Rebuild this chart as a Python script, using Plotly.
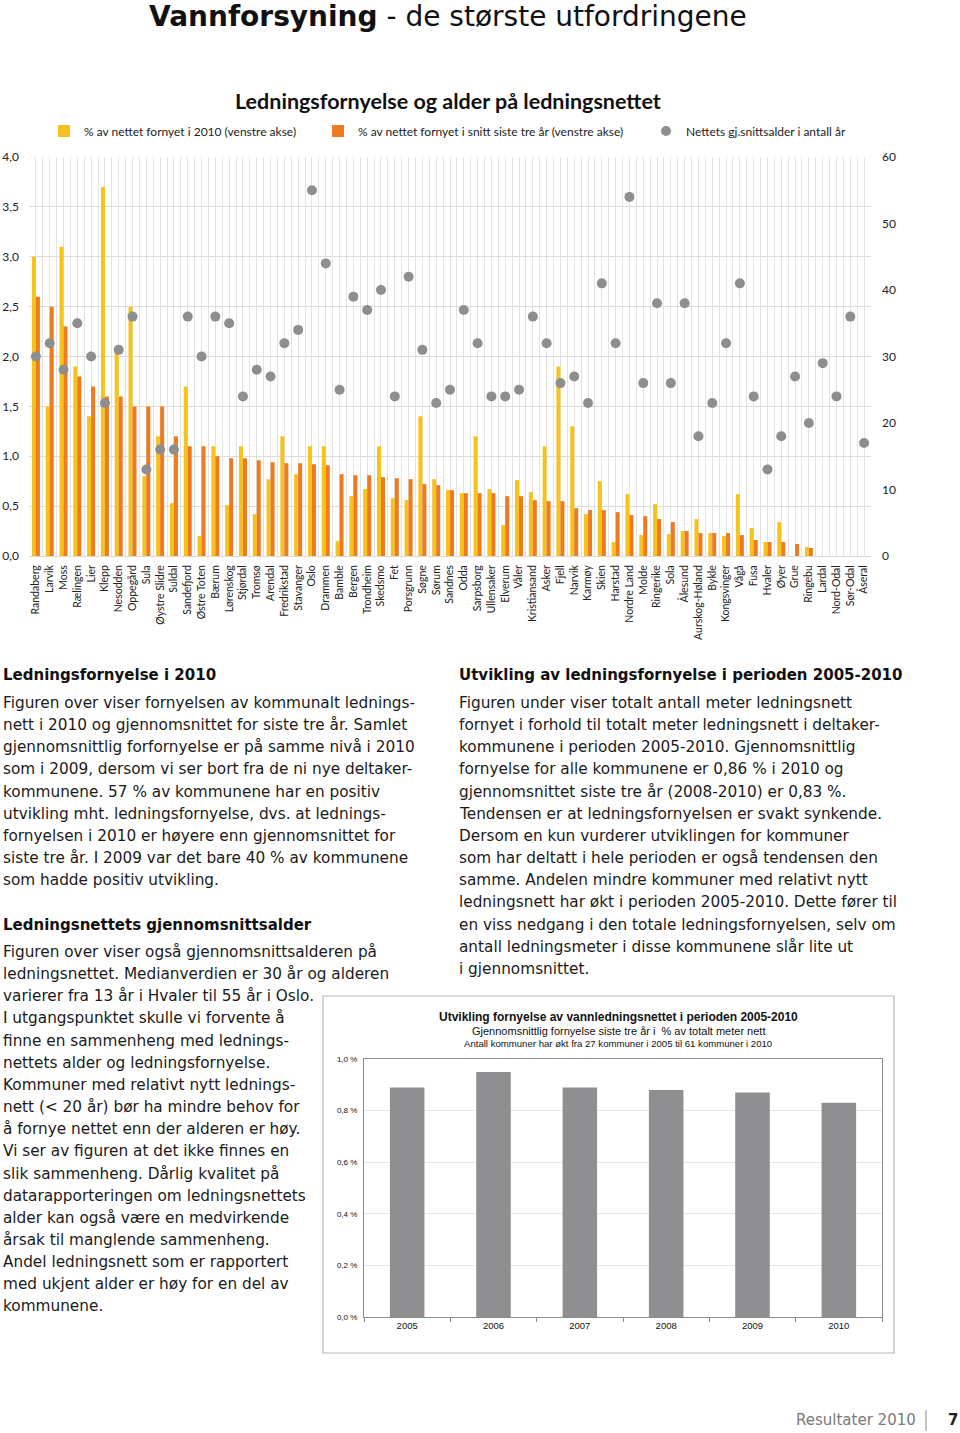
import plotly.graph_objects as go

# ---------------- data ----------------
categories = ["Randaberg", "Larvik", "Moss", "Rælingen", "Lier", "Klepp", "Nesodden", "Oppegård", "Sula",
              "Øystre Slidre", "Suldal", "Sandefjord", "Østre Toten", "Bærum", "Lørenskog", "Stjørdal",
              "Tromsø", "Arendal", "Fredrikstad", "Stavanger", "Oslo", "Drammen", "Bamble", "Bergen",
              "Trondheim", "Skedsmo", "Fet", "Porsgrunn", "Søgne", "Sørum", "Sandnes", "Odda", "Sarpsborg",
              "Ullensaker", "Elverum", "Våler", "Kristiansand", "Asker", "Fjell", "Narvik", "Karmøy",
              "Skien", "Harstad", "Nordre Land", "Molde", "Ringerike", "Sola", "Ålesund", "Aurskog-Høland",
              "Bykle", "Kongsvinger", "Vågå", "Fusa", "Hvaler", "Øyer", "Grue", "Ringebu", "Lardal",
              "Nord-Odal", "Sør-Odal", "Åseral"]

fornyet_2010 = [3.0, 1.5, 3.1, 1.9, 1.4, 3.7, 2.05, 2.5, 0.8, 1.2, 0.53, 1.7, 0.2, 1.1, 0.51, 1.1,
                0.42, 0.77, 1.2, 0.82, 1.1, 1.1, 0.15, 0.60, 0.67, 1.1, 0.58, 0.56, 1.40, 0.77, 0.66,
                0.63, 1.20, 0.67, 0.31, 0.76, 0.64, 1.10, 1.90, 1.30, 0.42, 0.75, 0.14, 0.62, 0.21,
                0.52, 0.22, 0.25, 0.37, 0.23, 0.20, 0.62, 0.28, 0.14, 0.34, 0.0, 0.09, 0.0, 0.0, 0.0, 0.0]

fornyet_snitt3 = [2.6, 2.5, 2.3, 1.8, 1.7, 1.6, 1.6, 1.5, 1.5, 1.5, 1.2, 1.1, 1.1, 1.0, 0.98, 0.98,
                  0.96, 0.94, 0.93, 0.93, 0.92, 0.91, 0.82, 0.81, 0.81, 0.79, 0.78, 0.77, 0.72, 0.71,
                  0.66, 0.63, 0.63, 0.63, 0.60, 0.60, 0.56, 0.55, 0.55, 0.48, 0.46, 0.46, 0.44, 0.41,
                  0.40, 0.37, 0.34, 0.25, 0.23, 0.23, 0.23, 0.21, 0.16, 0.14, 0.14, 0.12, 0.08, 0.0,
                  0.0, 0.0, 0.0]

alder = [30, 32, 28, 35, 30, 23, 31, 36, 13, 16, 16, 36, 30, 36, 35, 24, 28, 27, 32, 34, 55, 44,
         25, 39, 37, 40, 24, 42, 31, 23, 25, 37, 32, 24, 24, 25, 36, 32, 26, 27, 23, 41, 32, 54,
         26, 38, 26, 38, 18, 23, 32, 41, 24, 13, 18, 27, 20, 29, 24, 36, 17]

left_ticks = [0.0, 0.5, 1.0, 1.5, 2.0, 2.5, 3.0, 3.5, 4.0]
right_ticks = [0, 10, 20, 30, 40, 50, 60]

years = ["2005", "2006", "2007", "2008", "2009", "2010"]
fornyelse_snitt = [0.89, 0.95, 0.89, 0.88, 0.87, 0.83]
small_ticks = [0.0, 0.2, 0.4, 0.6, 0.8, 1.0]
small_ticktext = [("%.1f %%" % v).replace(".", ",") for v in small_ticks]

page_title = "<b>Vannforsyning</b> - de største utfordringene"
chart_title = "<b>Ledningsfornyelse og alder på ledningsnettet</b>"
legend_names = ["% av nettet fornyet i 2010 (venstre akse)",
                "% av nettet fornyet i snitt siste tre år (venstre akse)",
                "Nettets gj.snittsalder i antall år"]

small_title = ["<b>Utvikling fornyelse av vannledningsnettet i perioden 2005-2010</b>",
               "Gjennomsnittlig fornyelse siste tre år i  % av totalt meter nett",
               "Antall kommuner har økt fra 27 kommuner i 2005 til 61 kommuner i 2010"]

head1 = "Ledningsfornyelse i 2010"
text1 = ["Figuren over viser fornyelsen av kommunalt lednings-",
         "nett i 2010 og gjennomsnittet for siste tre år. Samlet",
         "gjennomsnittlig forfornyelse er på samme nivå i 2010",
         "som i 2009, dersom vi ser bort fra de ni nye deltaker-",
         "kommunene. 57 % av kommunene har en positiv",
         "utvikling mht. ledningsfornyelse, dvs. at lednings-",
         "fornyelsen i 2010 er høyere enn gjennomsnittet for",
         "siste tre år. I 2009 var det bare 40 % av kommunene",
         "som hadde positiv utvikling."]
head2 = "Ledningsnettets gjennomsnittsalder"
text2 = ["Figuren over viser også gjennomsnittsalderen på",
         "ledningsnettet. Medianverdien er 30 år og alderen",
         "varierer fra 13 år i Hvaler til 55 år i Oslo.",
         "I utgangspunktet skulle vi forvente å",
         "finne en sammenheng med lednings-",
         "nettets alder og ledningsfornyelse.",
         "Kommuner med relativt nytt lednings-",
         "nett (< 20 år) bør ha mindre behov for",
         "å fornye nettet enn der alderen er høy.",
         "Vi ser av figuren at det ikke finnes en",
         "slik sammenheng. Dårlig kvalitet på",
         "datarapporteringen om ledningsnettets",
         "alder kan også være en medvirkende",
         "årsak til manglende sammenheng.",
         "Andel ledningsnett som er rapportert",
         "med ukjent alder er høy for en del av",
         "kommunene."]
head3 = "Utvikling av ledningsfornyelse i perioden 2005-2010"
text3 = ["Figuren under viser totalt antall meter ledningsnett",
         "fornyet i forhold til totalt meter ledningsnett i deltaker-",
         "kommunene i perioden 2005-2010. Gjennomsnittlig",
         "fornyelse for alle kommunene er 0,86 % i 2010 og",
         "gjennomsnittet siste tre år (2008-2010) er 0,83 %.",
         "Tendensen er at ledningsfornyelsen er svakt synkende.",
         "Dersom en kun vurderer utviklingen for kommuner",
         "som har deltatt i hele perioden er også tendensen den",
         "samme. Andelen mindre kommuner med relativt nytt",
         "ledningsnett har økt i perioden 2005-2010. Dette fører til",
         "en viss nedgang i den totale ledningsfornyelsen, selv om",
         "antall ledningsmeter i disse kommunene slår lite ut",
         "i gjennomsnittet."]
footer = "Resultater 2010"
page_no = "7"

# ---------------- helpers ----------------
W, H = 960, 1433


def px(x):
    return x / W


def py(y):
    return 1 - y / H


YELLOW = "#F8C21C"
ORANGE = "#EE7B22"
GREY = "#8E8E8E"
CAL = "Lato, Carlito, sans-serif"
VER = "DejaVu Sans, Verdana, sans-serif"
ARI = "Liberation Sans, Arial, sans-serif"

xidx = list(range(len(categories)))

fig = go.Figure()

fig.add_trace(go.Bar(x=xidx, y=fornyet_2010, name=legend_names[0], marker=dict(color=YELLOW, line=dict(width=0)),
                     xaxis="x", yaxis="y", legend="legend"))
fig.add_trace(go.Bar(x=xidx, y=fornyet_snitt3, name=legend_names[1], marker=dict(color=ORANGE, line=dict(width=0)),
                     xaxis="x", yaxis="y", legend="legend2"))
fig.add_trace(go.Scatter(x=xidx, y=alder, name=legend_names[2], mode="markers",
                         marker=dict(color=GREY, size=10, line=dict(width=0)),
                         xaxis="x", yaxis="y2", legend="legend3"))

fig.add_trace(go.Bar(x=years, y=fornyelse_snitt, marker=dict(color="#8F8F91", line=dict(width=0)),
                     xaxis="x3", yaxis="y3", showlegend=False, width=0.4))

annotations = []
annotations.append(dict(text=page_title, x=px(448), y=py(16), xref="paper", yref="paper", showarrow=False,
                        xanchor="center", yanchor="middle", font=dict(family=VER, size=28, color="#111")))
annotations.append(dict(text=chart_title, x=px(448), y=py(101), xref="paper", yref="paper", showarrow=False,
                        xanchor="center", yanchor="middle", font=dict(family=CAL, size=21.5, color="#111")))


def add_block(head, lines, x0, yhead, y0, step=22.15):
    annotations.append(dict(text="<b>" + head + "</b>", x=px(x0), y=py(yhead), xref="paper", yref="paper",
                            showarrow=False, xanchor="left", yanchor="middle",
                            font=dict(family=VER, size=15, color="#111")))
    for i, ln in enumerate(lines):
        annotations.append(dict(text=ln, x=px(x0), y=py(y0 + i * step), xref="paper", yref="paper",
                                showarrow=False, xanchor="left", yanchor="middle",
                                font=dict(family=VER, size=15.3, color="#1a1a1a")))


add_block(head1, text1, 1, 675, 703)
add_block(head2, text2, 1, 925, 952)
add_block(head3, text3, 457, 675, 703)

for i, (t, yy, sz) in enumerate(zip(small_title, [1017, 1031, 1043], [12, 11, 9.6])):
    annotations.append(dict(text=t, x=px(618), y=py(yy), xref="paper", yref="paper", showarrow=False,
                            xanchor="center", yanchor="middle", font=dict(family=ARI, size=sz, color="#111")))

annotations.append(dict(text=footer, x=px(918), y=py(1420), xref="paper", yref="paper", showarrow=False,
                        xanchor="right", yanchor="middle", font=dict(family=VER, size=15, color="#7a7a7a")))
annotations.append(dict(text="<b>" + page_no + "</b>", x=px(953), y=py(1420), xref="paper", yref="paper",
                        showarrow=False, xanchor="center", yanchor="middle",
                        font=dict(family=VER, size=15, color="#222")))

shapes = [
    dict(type="rect", xref="paper", yref="paper", x0=px(323), x1=px(894), y0=py(1353), y1=py(996),
         line=dict(color="#B8B8B8", width=1.2), fillcolor="rgba(0,0,0,0)", layer="below"),
    dict(type="line", xref="paper", yref="paper", x0=px(926), x1=px(926), y0=py(1410), y1=py(1431),
         line=dict(color="#888", width=1)),
]

fig.update_layout(
    width=W, height=H, autosize=False,
    margin=dict(l=0, r=0, t=0, b=0, pad=0),
    paper_bgcolor="white", plot_bgcolor="white",
    separators=", ",
    barmode="group", bargap=0.42, bargroupgap=0.0,
    annotations=annotations, shapes=shapes,
    xaxis=dict(domain=[px(29), px(871)], range=[-0.5, len(categories) - 0.5], anchor="y",
               tickmode="array", tickvals=xidx, ticktext=categories, tickangle=-90,
               tickfont=dict(family=CAL, size=10.5, color="#222"),
               showgrid=True, gridcolor="#E3E3E3", gridwidth=1,
               minor=dict(tickmode="linear", tick0=-0.5, dtick=0.5, showgrid=True, gridcolor="#E3E3E3",
                          gridwidth=1, ticks=""),
               showline=True, linecolor="#D9D9D9", linewidth=1, ticks="", zeroline=False,
               ticklabelstandoff=4, automargin=False),
    yaxis=dict(domain=[py(556), py(157)], range=[0, 4.0], anchor="x",
               tickmode="array", tickvals=left_ticks, tickformat=".1f",
               tickfont=dict(family=CAL, size=12, color="#222"),
               showgrid=True, gridcolor="#DCDCDC", gridwidth=1, zeroline=False, showline=False,
               ticks="", ticklabelstandoff=9, automargin=False),
    yaxis2=dict(domain=[py(556), py(157)], range=[0, 60], overlaying="y", side="right", anchor="x",
                tickmode="array", tickvals=right_ticks,
                tickfont=dict(family=CAL, size=12, color="#222"),
                showgrid=False, zeroline=False, showline=False, ticks="", ticklabelstandoff=10,
                automargin=False),
    xaxis3=dict(domain=[px(364), px(882)], anchor="y3", type="category",
                tickfont=dict(family=ARI, size=9.5, color="#111"),
                showline=True, linecolor="#8a8a8a", linewidth=1, mirror=True,
                ticks="outside", ticklen=4, tickcolor="#8a8a8a", tickson="boundaries",
                showgrid=False, automargin=False),
    yaxis3=dict(domain=[py(1317), py(1059)], range=[0, 1.0], anchor="x3",
                tickmode="array", tickvals=small_ticks, ticktext=small_ticktext,
                tickfont=dict(family=ARI, size=8, color="#111"),
                showgrid=True, gridcolor="#E6E6E6", gridwidth=1, zeroline=False,
                showline=True, linecolor="#8a8a8a", linewidth=1, mirror=True, ticks="",
                ticklabelstandoff=4, automargin=False),
    legend=dict(x=px(44), y=py(131), xanchor="left", yanchor="middle", orientation="h",
                font=dict(family=CAL, size=12, color="#222"), itemwidth=30, bgcolor="rgba(0,0,0,0)"),
    legend2=dict(x=px(318), y=py(131), xanchor="left", yanchor="middle", orientation="h",
                 font=dict(family=CAL, size=12, color="#222"), itemwidth=30, bgcolor="rgba(0,0,0,0)"),
    legend3=dict(x=px(646), y=py(131), xanchor="left", yanchor="middle", orientation="h",
                 font=dict(family=CAL, size=12, color="#222"), itemwidth=30, bgcolor="rgba(0,0,0,0)"),
)

fig.write_html("out.html", config={"displayModeBar": False},
               post_script="document.body.style.margin='0';document.body.style.padding='0';"
                           "document.documentElement.style.overflow='hidden';")
